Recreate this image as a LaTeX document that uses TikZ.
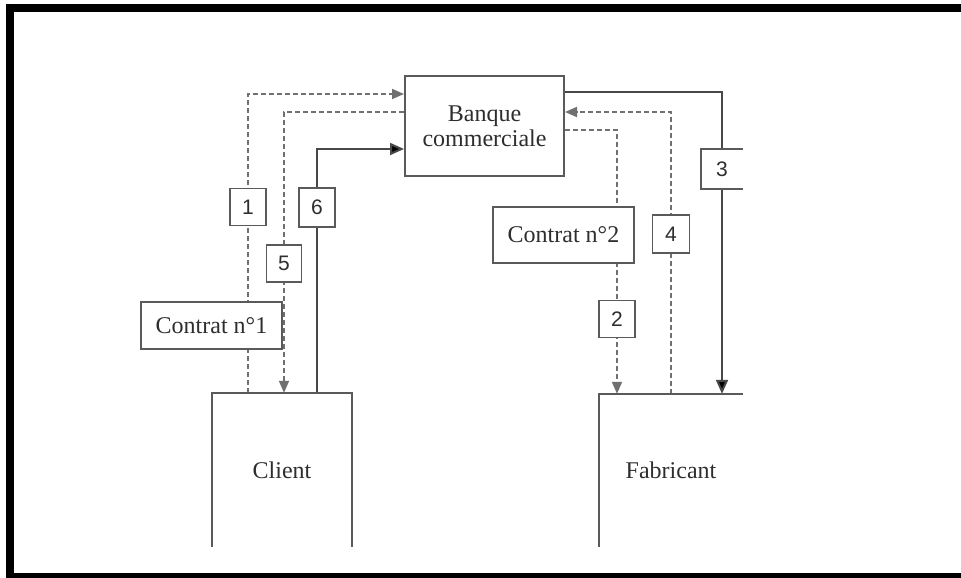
\documentclass[tikz,border=0pt]{standalone}
\usepackage{fontspec}
\setmainfont{Liberation Serif}
\newfontfamily\numfont{Liberation Sans}
\usetikzlibrary{arrows.meta,backgrounds}
\definecolor{boxc}{HTML}{5A5A5A}
\definecolor{linec}{HTML}{484848}
\definecolor{dashc}{HTML}{707070}
\definecolor{txtc}{HTML}{2E2E2E}
\begin{document}
\begin{tikzpicture}[x=1pt,y=-1pt,
  box/.style={draw=boxc, line width=2pt, fill=white, align=center, inner sep=0pt, text=txtc,
    font=\fontsize{24}{25}\selectfont},
  open/.style={draw=none, align=center, inner sep=0pt, text=txtc, font=\fontsize{24}{25}\selectfont},
  edge/.style={draw=boxc, line width=2pt},
  numbox/.style={draw=boxc, line width=1.8pt, fill=white, minimum width=36pt, minimum height=37pt,
    inner sep=0pt, text=txtc, font=\numfont\fontsize{21}{21}\selectfont},
  sline/.style={draw=linec, line width=2pt, -{Triangle[length=14pt,width=12pt,fill=black]}},
  dline/.style={draw=dashc, line width=1.8pt, dash pattern=on 5pt off 3pt,
    -{Triangle[length=12pt,width=10pt,fill=dashc]}}]
\useasboundingbox (0,0) rectangle (961,578);
% frame
\draw[black, line width=8pt] (10,578) -- (10,8) -- (961,8);
\draw[black, line width=5pt] (6,575.5) -- (961,575.5);

% main boxes
\node[box, minimum width=159pt, minimum height=100pt] (bank) at (484.5,126) {Banque\\commerciale};
\node[open, minimum width=140pt, minimum height=154pt] (client) at (282,470) {Client};
\node[open, minimum width=144pt, minimum height=153pt] (fab) at (671,470.5) {Fabricant};
\draw[edge] (client.south west) -- (client.north west) -- (client.north east) -- (client.south east);
\draw[edge] (fab.south west) -- (fab.north west) -- (fab.north east);

% contracts
\node[box, minimum width=141pt, minimum height=47pt] (c1) at (211.5,325.5) {Contrat n°1};
\node[box, minimum width=141pt, minimum height=56pt] (c2) at (563.5,235) {Contrat n°2};

% number labels
\node[numbox] (l1) at (248,207) {1};
\node[numbox, minimum width=35pt] (l5) at (284,263.5) {5};
\node[numbox, minimum height=39pt] (l6) at (317,207.5) {6};
\node[numbox, draw=none, minimum width=40pt, minimum height=38pt] (l3) at (722,169) {3};
\draw[boxc, line width=1.8pt] (l3.north east) -- (l3.north west) -- (l3.south west) -- (l3.south east);
\node[numbox, minimum width=37pt, minimum height=38pt] (l4) at (671,234) {4};
\node[numbox] (l2) at (617,319) {2};

% anchor points on the bank
\coordinate (b1) at ([yshift=-19pt]bank.north west);
\coordinate (b5) at ([yshift=-37pt]bank.north west);
\coordinate (b6) at ([yshift=-74pt]bank.north west);
\coordinate (b3) at ([yshift=-17pt]bank.north east);
\coordinate (b4) at ([yshift=-37pt]bank.north east);
\coordinate (b2) at ([yshift=-55pt]bank.north east);

\begin{scope}[on background layer]
\draw[dline] (l1 |- client.north) -- (l1 |- b1) -- (b1);
\draw[dline] (b5) -- (l5 |- b5) -- (l5 |- client.north);
\draw[sline] (l6 |- client.north) -- (l6 |- b6) -- (b6);
\draw[sline] (b3) -- (l3 |- b3) -- (l3 |- fab.north);
\draw[dline] (l4 |- fab.north) -- (l4 |- b4) -- (b4);
\draw[dline] (b2) -- (l2 |- b2) -- (l2 |- fab.north);
\end{scope}
\end{tikzpicture}
\end{document}
